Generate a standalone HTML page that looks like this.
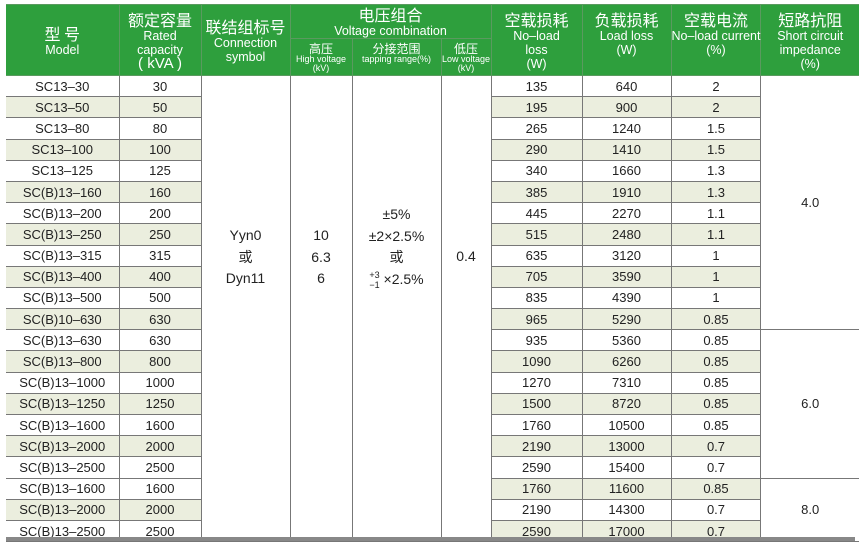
<!DOCTYPE html>
<html><head><meta charset="utf-8"><style>
html,body{margin:0;padding:0;background:#fff;width:859px;height:545px;overflow:hidden}
table{position:absolute;left:6px;top:4px;border-collapse:collapse;table-layout:fixed;font-family:"Liberation Sans","Noto Sans CJK SC",sans-serif;color:#222}
td{padding:0;text-align:center;font-size:13px;border:1px solid #777;overflow:hidden;white-space:nowrap;line-height:15px}
th{padding:0;background:#2e9f3d;color:#fff;font-weight:normal;border:1px solid #5a9a5f;text-align:center;vertical-align:middle;line-height:14px;font-size:12.5px;white-space:nowrap}
th .cn{font-family:"Noto Sans CJK SC",sans-serif;font-size:16px;line-height:19px;display:block}
th .sm{font-size:9px;line-height:9px;display:block}
th .scn{font-family:"Noto Sans CJK SC",sans-serif;font-size:12px;line-height:13px;display:block}
tbody tr{height:21.2px}
tbody td:first-child{border-left:none}
.s{background:#ebeede}
.m{vertical-align:top;font-size:14px;line-height:21.5px;border-top:none}
.imp{font-size:13px;vertical-align:middle;border-right:none}
</style></head><body>
<table>
<colgroup><col style="width:113px"><col style="width:82px"><col style="width:89px"><col style="width:62px"><col style="width:89px"><col style="width:50px"><col style="width:91px"><col style="width:89px"><col style="width:86px"><col style="width:98px"></colgroup>
<thead>
<tr style="height:34px">
<th rowspan="2" style="border-left:none"><span class="cn">型 号</span>Model</th>
<th rowspan="2"><span class="cn">额定容量</span>Rated<br>capacity<br><span style="font-size:15px">( kVA )</span></th>
<th rowspan="2"><span class="cn">联结组标号</span>Connection<br>symbol</th>
<th colspan="3"><span class="cn">电压组合</span>Voltage combination</th>
<th rowspan="2"><span class="cn">空载损耗</span>No–load<br>loss<br>(W)</th>
<th rowspan="2"><span class="cn">负载损耗</span>Load loss<br>(W)<br>&nbsp;</th>
<th rowspan="2"><span class="cn">空载电流</span>No–load current<br>(%)<br>&nbsp;</th>
<th rowspan="2" style="border-right:none"><span class="cn">短路抗阻</span>Short circuit<br>impedance<br>(%)</th>
</tr>
<tr style="height:37px">
<th><span class="scn">高压</span><span class="sm">High voltage<br>(kV)</span></th>
<th style="vertical-align:top;padding-top:3px"><span class="scn">分接范围</span><span class="sm">tapping range(%)</span></th>
<th><span class="scn">低压</span><span class="sm">Low voltage<br>(kV)</span></th>
</tr>
</thead>
<tbody>
<tr><td>SC13–30</td><td>30</td>
<td class="m" rowspan="22"><div style="padding-top:149px">Yyn0<br>或<br>Dyn11</div></td>
<td class="m" rowspan="22"><div style="padding-top:149px">10<br>6.3<br>6</div></td>
<td class="m" rowspan="22"><div style="padding-top:128px">±5%<br>±2×2.5%<br>或<br><span style="display:inline-block;font-size:9px;line-height:10px;vertical-align:middle;text-align:left">+3<br>−1</span> ×2.5%</div></td>
<td class="m" rowspan="22"><div style="padding-top:170px">0.4</div></td>
<td>135</td><td>640</td><td>2</td><td class="imp" rowspan="12">4.0</td></tr>
<tr><td class="s">SC13–50</td><td class="s">50</td><td class="s">195</td><td class="s">900</td><td class="s">2</td></tr>
<tr><td>SC13–80</td><td>80</td><td>265</td><td>1240</td><td>1.5</td></tr>
<tr><td class="s">SC13–100</td><td class="s">100</td><td class="s">290</td><td class="s">1410</td><td class="s">1.5</td></tr>
<tr><td>SC13–125</td><td>125</td><td>340</td><td>1660</td><td>1.3</td></tr>
<tr><td class="s">SC(B)13–160</td><td class="s">160</td><td class="s">385</td><td class="s">1910</td><td class="s">1.3</td></tr>
<tr><td>SC(B)13–200</td><td>200</td><td>445</td><td>2270</td><td>1.1</td></tr>
<tr><td class="s">SC(B)13–250</td><td class="s">250</td><td class="s">515</td><td class="s">2480</td><td class="s">1.1</td></tr>
<tr><td>SC(B)13–315</td><td>315</td><td>635</td><td>3120</td><td>1</td></tr>
<tr><td class="s">SC(B)13–400</td><td class="s">400</td><td class="s">705</td><td class="s">3590</td><td class="s">1</td></tr>
<tr><td>SC(B)13–500</td><td>500</td><td>835</td><td>4390</td><td>1</td></tr>
<tr><td class="s">SC(B)10–630</td><td class="s">630</td><td class="s">965</td><td class="s">5290</td><td class="s">0.85</td></tr>
<tr><td>SC(B)13–630</td><td>630</td><td>935</td><td>5360</td><td>0.85</td><td class="imp" rowspan="7">6.0</td></tr>
<tr><td class="s">SC(B)13–800</td><td class="s">800</td><td class="s">1090</td><td class="s">6260</td><td class="s">0.85</td></tr>
<tr><td>SC(B)13–1000</td><td>1000</td><td>1270</td><td>7310</td><td>0.85</td></tr>
<tr><td class="s">SC(B)13–1250</td><td class="s">1250</td><td class="s">1500</td><td class="s">8720</td><td class="s">0.85</td></tr>
<tr><td>SC(B)13–1600</td><td>1600</td><td>1760</td><td>10500</td><td>0.85</td></tr>
<tr><td class="s">SC(B)13–2000</td><td class="s">2000</td><td class="s">2190</td><td class="s">13000</td><td class="s">0.7</td></tr>
<tr><td>SC(B)13–2500</td><td>2500</td><td>2590</td><td>15400</td><td>0.7</td></tr>
<tr><td>SC(B)13–1600</td><td>1600</td><td class="s">1760</td><td class="s">11600</td><td class="s">0.85</td><td class="imp" rowspan="3">8.0</td></tr>
<tr><td class="s">SC(B)13–2000</td><td class="s">2000</td><td>2190</td><td>14300</td><td>0.7</td></tr>
<tr><td>SC(B)13–2500</td><td>2500</td><td class="s">2590</td><td class="s">17000</td><td class="s">0.7</td></tr>
</tbody>
</table>
<div style="position:absolute;left:6px;top:537px;width:849px;height:4px;background:#888"></div>
</body></html>
